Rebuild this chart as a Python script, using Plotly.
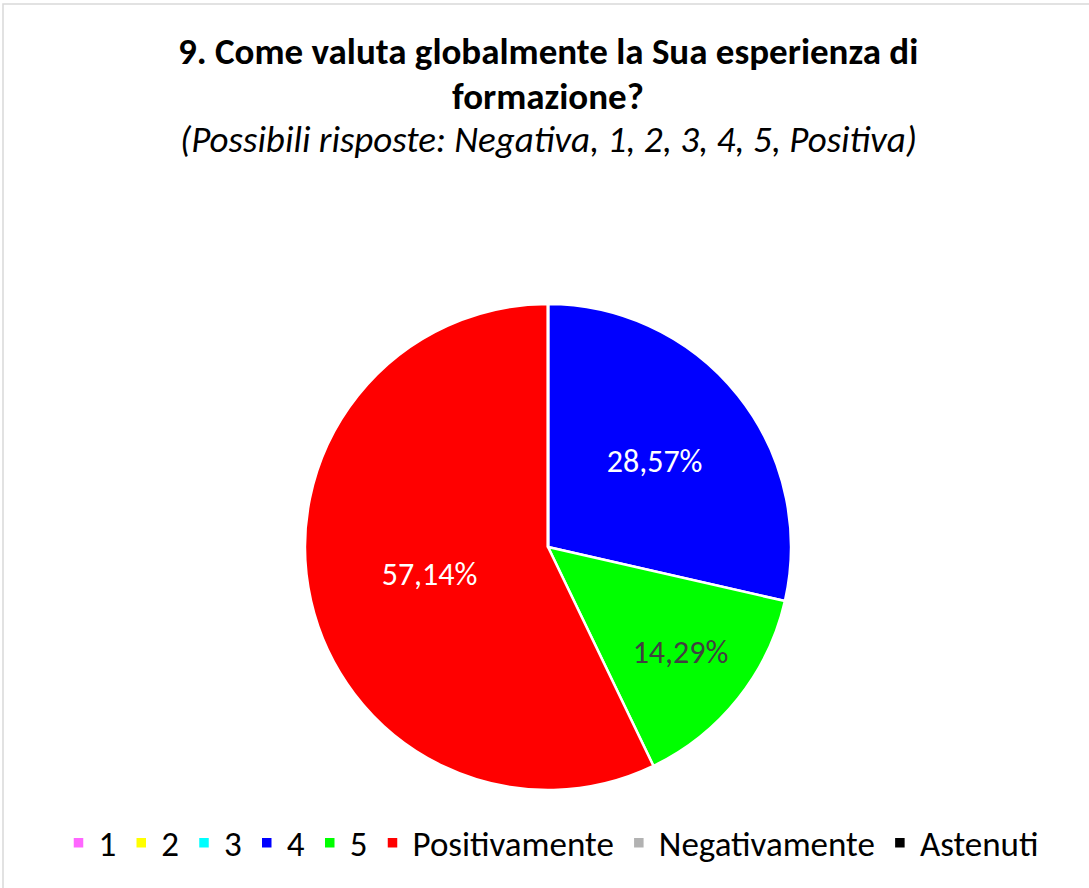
import plotly.graph_objects as go

categories = ["1", "2", "3", "4", "5", "Positivamente", "Negativamente", "Astenuti"]
values = [0, 0, 0, 2, 1, 4, 0, 0]
colors = ["#FF66FF", "#FFFF00", "#00FFFF", "#0000FF", "#00FF00", "#FF0000", "#B2B2B2", "#000000"]
text_colors = ["#FFFFFF", "#404040", "#404040", "#FFFFFF", "#404040", "#FFFFFF", "#404040", "#FFFFFF"]

title_line1 = "<b>9. Come valuta globalmente la Sua esperienza di</b>"
title_line2 = "<b>formazione?</b>"
subtitle = "<i>(Possibili risposte: Negativa, 1, 2, 3, 4, 5, Positiva)</i>"

FONT = "Carlito, Calibri, Lato, sans-serif"
W, H = 1089, 888

total = sum(values)
labels_text = [(f"{v / total * 100:.2f}".replace(".", ",") + "%") if v > 0 else "" for v in values]

cx, cy, r = 548, 547, 243

fig = go.Figure(go.Pie(
    labels=categories,
    values=values,
    text=labels_text,
    textinfo="text",
    textposition="inside",
    insidetextorientation="horizontal",
    insidetextfont=dict(family=FONT, size=32, color=text_colors),
    marker=dict(colors=colors, line=dict(color="white", width=2.5)),
    sort=False,
    direction="clockwise",
    rotation=0,
    domain=dict(x=[(cx - r) / W, (cx + r) / W], y=[(H - cy - r) / H, (H - cy + r) / H]),
    hoverinfo="label+percent",
))

ann = []
for txt, y, size in [(title_line1, 52, 37), (title_line2, 96, 37), (subtitle, 140, 37)]:
    ann.append(dict(text=txt, x=548 / W, y=1 - y / H, xref="paper", yref="paper",
                    showarrow=False, xanchor="center", yanchor="middle",
                    font=dict(family=FONT, size=size, color="#000000")))

fig.update_layout(
    width=W, height=H,
    margin=dict(l=0, r=0, t=0, b=0),
    paper_bgcolor="white", plot_bgcolor="white",
    font=dict(family=FONT, color="#000000"),
    annotations=ann,
    showlegend=True,
    legend=dict(orientation="h", x=551 / W, xanchor="center", y=1 - 843 / H, yanchor="middle",
                font=dict(family=FONT, size=35, color="#000000"), traceorder="normal",
                itemwidth=30, tracegroupgap=0),
    shapes=[dict(type="rect", xref="paper", yref="paper", x0=3 / W, x1=1.05, y0=-0.05, y1=1 - 4 / H,
                 line=dict(color="#D9D9D9", width=1.5), fillcolor="rgba(0,0,0,0)", layer="below")],
)

fig.write_html("out.html", config={"displayModeBar": False},
               post_script="document.body.style.margin='0';")
